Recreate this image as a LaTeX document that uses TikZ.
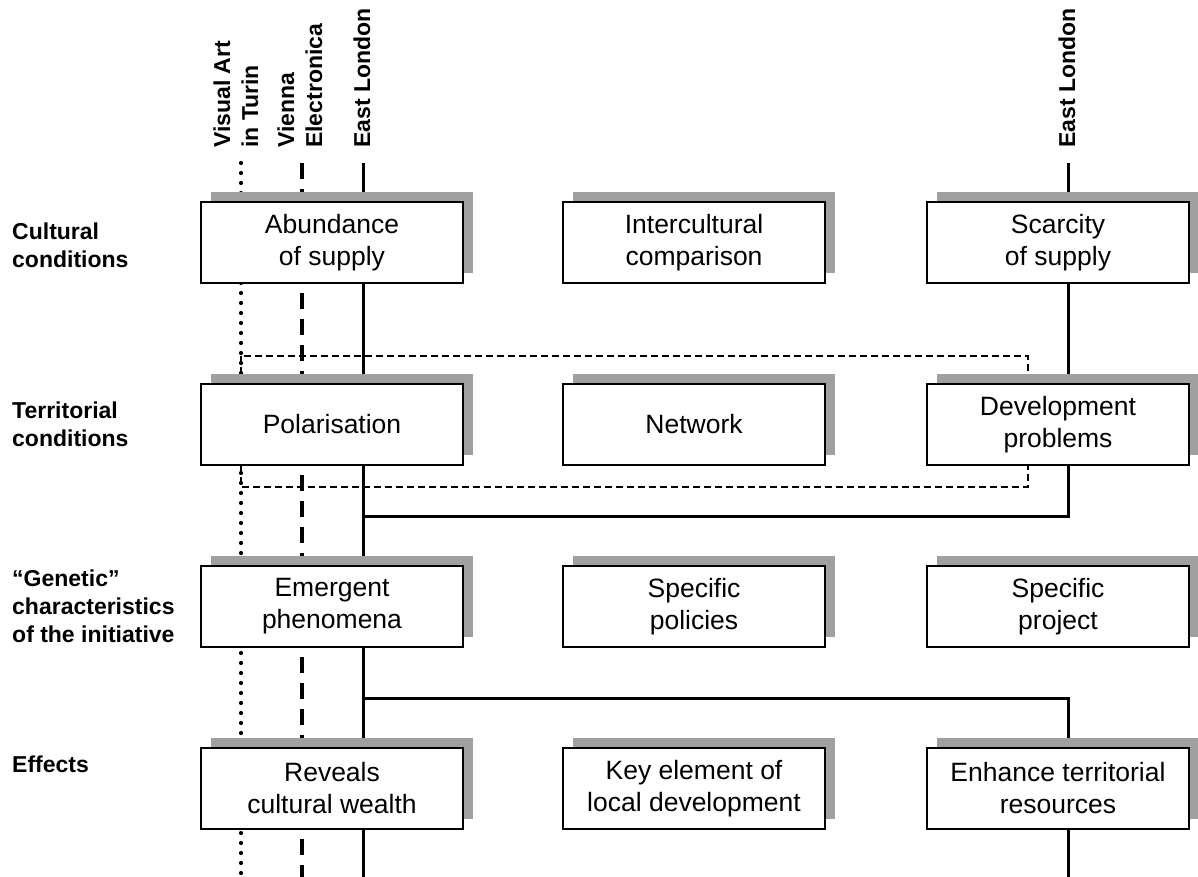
\documentclass[tikz,border=0pt]{standalone}
\usepackage{fontspec}
\setmainfont{Liberation Sans}
\usetikzlibrary{shadows}
\pgfdeclarelayer{bg}
\pgfsetlayers{bg,main}
\definecolor{shade}{RGB}{160,160,160}
\tikzset{
  box/.style={draw=black, line width=1.3pt, fill=white, minimum width=262pt, minimum height=81pt,
    inner sep=0pt, align=center, font=\fontsize{26.5}{32}\selectfont,
    copy shadow={shadow xshift=10pt, shadow yshift=10pt, fill=shade, draw=none}},
  rowlabel/.style={anchor=base west, align=left, inner sep=0pt, font=\fontsize{23}{28}\selectfont\bfseries},
  caselabel/.style={rotate=90, anchor=west, align=left, inner sep=0pt, font=\fontsize{23}{28}\selectfont\bfseries},
  solidline/.style={line width=3pt},
  dotline/.style={line width=4.2pt, line cap=round, dash pattern=on 0pt off 10pt},
  dashline/.style={line width=4pt, dash pattern=on 16pt off 10pt},
  frameline/.style={line width=1.8pt, dash pattern=on 7pt off 4pt},
}
\begin{document}
\begin{tikzpicture}[x=1pt,y=-1pt]
\useasboundingbox (0,0) rectangle (1198,876);

% case labels
\node[caselabel] (lturin) at (236,148) {Visual Art\\in Turin};
\node[caselabel] (lvienna) at (300,148) {Vienna\\Electronica};
\node[caselabel] (llondon) at (362,148) {East London};
\node[caselabel] (rlondon) at (1067,148) {East London};

% row labels (anchored at the baseline of the last line)
\node[rowlabel] (rcult) at (12,267) {Cultural\\conditions};
\node[rowlabel] (rterr) at (12,446) {Territorial\\conditions};
\node[rowlabel] (rgen) at (12,642) {“Genetic”\\characteristics\\of the initiative};
\node[rowlabel] (reff) at (12,772) {Effects};

% boxes
\node[box] (b11) at (332,242.5) {Abundance\\of supply};
\node[box] (b12) at (694,242.5) {Intercultural\\comparison};
\node[box] (b13) at (1058,242.5) {Scarcity\\of supply};
\node[box] (b21) at (332,424.5) {Polarisation};
\node[box] (b22) at (694,424.5) {Network};
\node[box] (b23) at (1058,424.5) {Development\\problems};
\node[box] (b31) at (332,606.5) {Emergent\\phenomena};
\node[box] (b32) at (694,606.5) {Specific\\policies};
\node[box] (b33) at (1058,606.5) {Specific\\project};
\node[box] (b41) at (332,788.5) {Reveals\\cultural wealth};
\node[box] (b42) at (694,788.5) {Key element of\\local development};
\node[box] (b43) at (1058,788.5) {Enhance territorial\\resources};

% line end points
\coordinate (tTop) at (241,163);
\coordinate (tBot) at (241,878);
\coordinate (vTop) at (302,163);
\coordinate (vBot) at (302,878);
\coordinate (lTop) at (363,163);
\coordinate (lBot) at (363,878);
\coordinate (lA) at (363,516);
\coordinate (lB) at (363,698);
\coordinate (rTop) at (1068,163);
\coordinate (rA) at (1068,516);
\coordinate (rB) at (1068,698);
\coordinate (rBot) at (1068,878);
\coordinate (fNW) at (241,356);
\coordinate (fSE) at (1028,487);

\begin{pgfonlayer}{bg}
  \draw[frameline] (fNW) rectangle (fSE);
  \draw[dotline] (tTop) -- (tBot);
  \draw[dashline] (vTop) -- (vBot);
  \draw[solidline] (lTop) -- (lBot);
  \draw[solidline] (rTop) -- (rA) -- (lA);
  \draw[solidline] (lB) -- (rB) -- (rBot);
\end{pgfonlayer}
\end{tikzpicture}
\end{document}
